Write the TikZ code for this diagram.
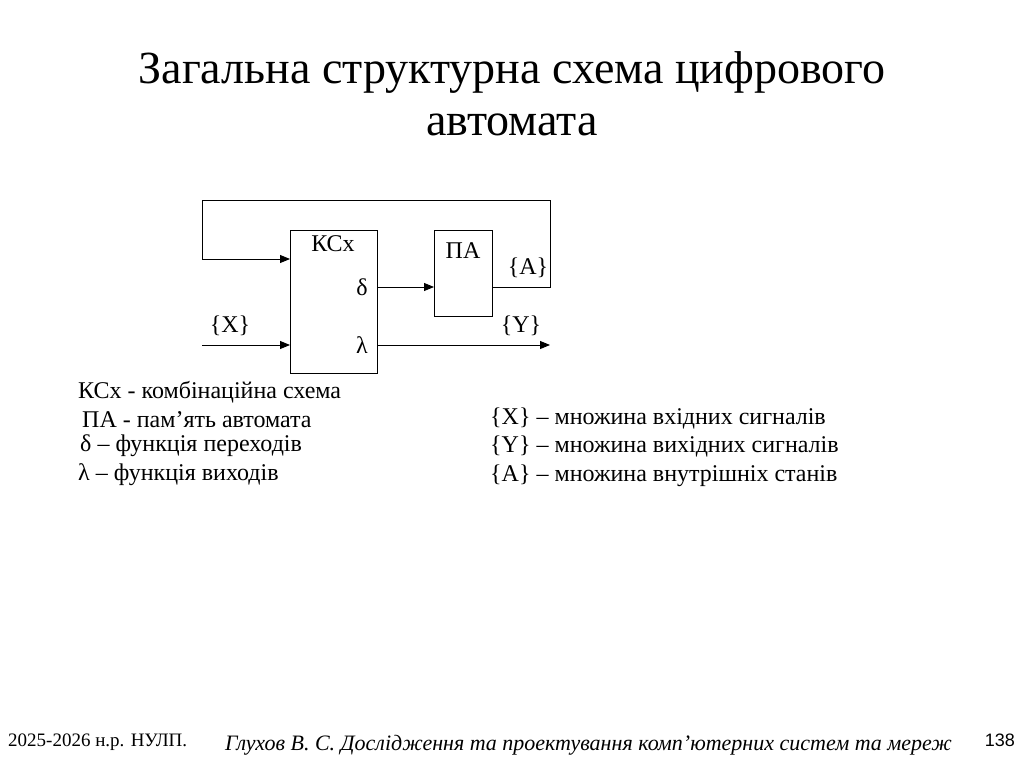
\documentclass[tikz,border=0pt]{standalone}
\usepackage{fontspec}
\setmainfont{Liberation Serif}
\newfontfamily\footsans{Liberation Sans}
\usetikzlibrary{arrows.meta}
\begin{document}
\begin{tikzpicture}[x=1pt,y=-1pt,
  blk/.style={draw,line width=1pt,anchor=north west,inner sep=0},
  wire/.style={line width=1pt},
  arr/.style={wire,-{Triangle[length=10pt,width=8pt]}},
  lbl/.style={font=\fontsize{24}{28}\selectfont,inner sep=0},
  leg/.style={font=\fontsize{24}{28}\selectfont,inner sep=0,anchor=west}]
\useasboundingbox (0,0) rectangle (1024,767);
\node[font=\fontsize{46}{52}\selectfont,align=center,inner sep=0] (title) at (512,94) {Загальна структурна схема цифрового\\автомата};
\node[blk,minimum width=87pt,minimum height=143pt] (ks) at (290,230) {};
\node[blk,minimum width=58pt,minimum height=86pt] (pa) at (434,230) {};
\node[lbl] (kst) at (333,244) {КСх};
\node[lbl] (pat) at (463,251) {ПА};
\node[lbl] (del) at (362,287) {δ};
\node[lbl] (lam) at (362,345) {λ};
\node[lbl] (at) at (528,268) {\{A\}};
\node[lbl] (xt) at (230,326) {\{X\}};
\node[lbl] (yt) at (521,326) {\{Y\}};
\coordinate (xin) at (202,345);
\coordinate (yout) at (550,345);
\draw[arr] (xin) -- (xin -| ks.west);
\draw[arr] (ks.east |- del) -- (pa.west |- del);
\draw[arr] (ks.east |- lam) -- (yout);
\draw[arr] (pa.east |- del) -- (550,287) -- (550,201) -- (202,201) -- (202,259) -- (ks.west |- 0,259);
\node[leg] (l1) at (78,392) {КСх - комбінаційна схема};
\node[leg] (l2) at (82,420) {ПА - пам’ять автомата};
\node[leg] (l3) at (80,446) {δ – функція переходів};
\node[leg] (l4) at (78,475) {λ – функція виходів};
\node[leg] (r1) at (490,418) {\{X\} – множина вхідних сигналів};
\node[leg] (r2) at (490,446) {\{Y\} – множина вихідних сигналів};
\node[leg] (r3) at (490,476) {\{A\} – множина внутрішніх станів};
\node[anchor=west,inner sep=0,font=\fontsize{19}{21}\selectfont] (f1) at (8,742) {2025-2026 н.р. НУЛП.};
\node[anchor=west,inner sep=0,font=\fontsize{22}{24}\selectfont\itshape] (f2) at (225,745) {Глухов В. С. Дослідження та проектування комп’ютерних систем та мереж};
\node[anchor=east,inner sep=0,font=\fontsize{18}{20}\selectfont\footsans] (f3) at (1015,740) {138};
\end{tikzpicture}
\end{document}
